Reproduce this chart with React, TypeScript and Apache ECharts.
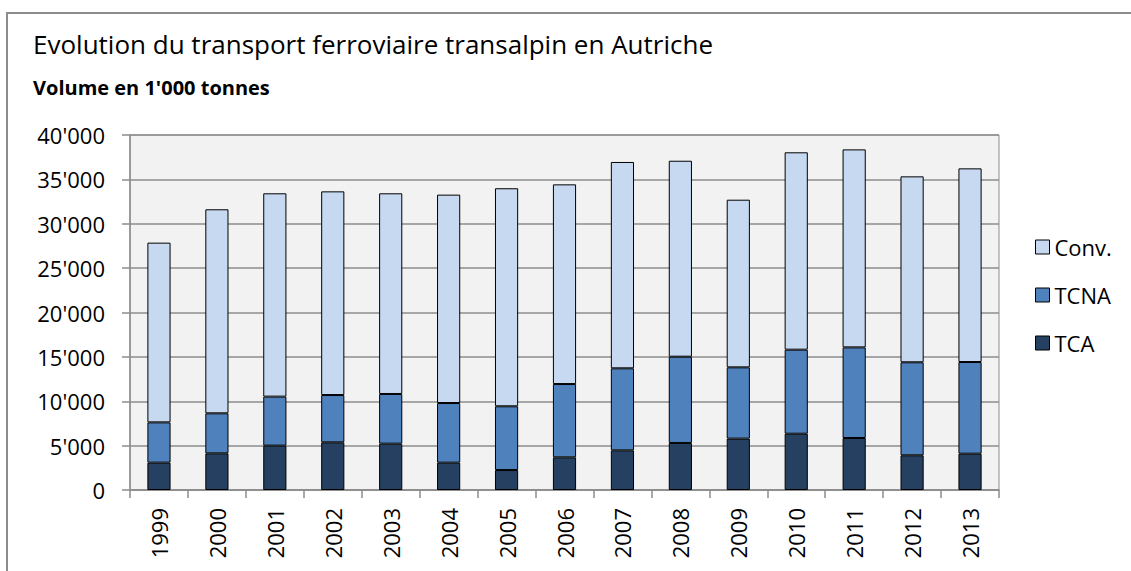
import React, { useEffect, useRef } from "react";
import * as echarts from "echarts";

const years = ["1999","2000","2001","2002","2003","2004","2005","2006","2007","2008","2009","2010","2011","2012","2013"];
const tca = [3080, 4130, 5000, 5370, 5220, 3080, 2250, 3680, 4470, 5300, 5790, 6340, 5860, 3910, 4090];
const tcna = [4540, 4510, 5520, 5330, 5600, 6720, 7180, 8260, 9240, 9720, 8030, 9470, 10210, 10480, 10330];
const conv = [20250, 22990, 22910, 22950, 22610, 23480, 24570, 22500, 23250, 22080, 18890, 22240, 22310, 20950, 21820];

const FONT = "Open Sans";

export default function App() {
  const ref = useRef<HTMLDivElement>(null);
  useEffect(() => {
    document.body.style.margin = "0";
    const chart = echarts.init(ref.current!, null, { renderer: "svg" });
    const barStyle = (color: string) => ({ color, borderColor: "#000", borderWidth: 1 });
    chart.setOption({
      animation: false,
      textStyle: { fontFamily: FONT, color: "#000" },
      graphic: [
        { type: "rect", shape: { x: 7, y: 13, width: 1140, height: 600 }, style: { fill: "none", stroke: "#8c8c8c", lineWidth: 2 }, silent: true },
        { type: "text", left: 33, top: 31, style: { text: "Evolution du transport ferroviaire transalpin en Autriche", font: `26px '${FONT}'`, fill: "#000" } },
        { type: "text", left: 33, top: 77, style: { text: "Volume en 1'000 tonnes", font: `bold 20px '${FONT}'`, fill: "#000" } },
      ],
      legend: {
        orient: "vertical",
        left: 1030,
        top: 231,
        icon: "rect",
        itemWidth: 14,
        itemHeight: 14,
        itemGap: 26,
        itemStyle: { borderColor: "#000", borderWidth: 1 },
        textStyle: { fontSize: 22, lineHeight: 22, fontFamily: FONT, color: "#000" },
        data: ["Conv.", "TCNA", "TCA"],
      },
      grid: {
        left: 130, top: 135, right: 132, bottom: 81,
        show: true, backgroundColor: "#f2f2f2", borderColor: "#8c8c8c", borderWidth: 1,
      },
      xAxis: {
        type: "category",
        data: years,
        boundaryGap: true,
        axisLine: { show: true, lineStyle: { color: "#8c8c8c", width: 1.5 } },
        axisTick: { show: true, alignWithLabel: false, length: 8, lineStyle: { color: "#8c8c8c", width: 1.5 } },
        axisLabel: { rotate: 90, fontSize: 22, fontFamily: FONT, color: "#000", margin: 18 },
      },
      yAxis: {
        type: "value",
        min: 0, max: 40000, interval: 5000,
        axisLine: { show: true, lineStyle: { color: "#8c8c8c", width: 1.5 } },
        axisTick: { show: true, length: 8, lineStyle: { color: "#8c8c8c", width: 1.5 } },
        splitLine: { show: true, lineStyle: { color: "#8c8c8c", width: 1.5 } },
        axisLabel: {
          fontSize: 22, fontFamily: FONT, color: "#000", margin: 25,
          formatter: (v: number) => String(v).replace(/\B(?=(\d{3})+(?!\d))/g, "'"),
        },
      },
      series: [
        { name: "TCA", type: "bar", stack: "t", data: tca, barWidth: "40%", itemStyle: barStyle("#254061") },
        { name: "TCNA", type: "bar", stack: "t", data: tcna, barWidth: "40%", itemStyle: barStyle("#4f81bd") },
        { name: "Conv.", type: "bar", stack: "t", data: conv, barWidth: "40%", itemStyle: barStyle("#c6d9f1") },
      ],
    });
    return () => chart.dispose();
  }, []);
  return <div ref={ref} style={{ width: 1131, height: 571 }} />;
}
